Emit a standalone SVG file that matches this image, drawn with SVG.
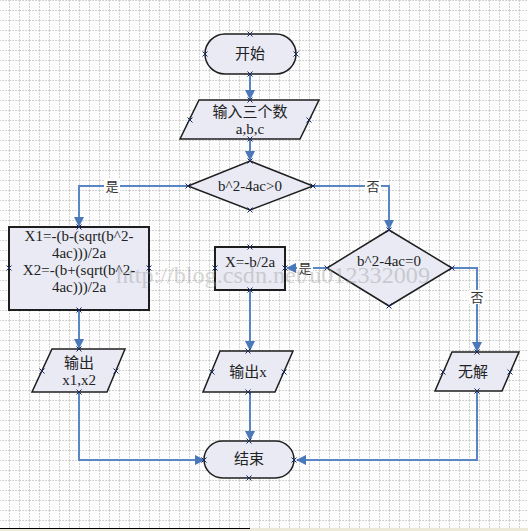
<svg xmlns="http://www.w3.org/2000/svg" width="528" height="531" viewBox="0 0 528 531">
<defs>
<pattern id="grid" x="9" y="0" width="10" height="10" patternUnits="userSpaceOnUse">
<path d="M0.5 0V10M0 0.5H10" stroke="#d2d2d2" stroke-width="1" stroke-dasharray="2 1" fill="none"/>
</pattern>
<marker id="arr" viewBox="0 0 10 10" refX="9" refY="5" markerWidth="5" markerHeight="5" orient="auto" markerUnits="strokeWidth">
<path d="M0 0L10 5L0 10z" fill="#4a78b8"/>
</marker>
<path id="cx" d="M-2.5 -2.5L2.5 2.5M-2.5 2.5L2.5 -2.5"/>
</defs>
<style>
.shape{fill:#e9eaf4;stroke:#1e1e1e;stroke-width:1.5}
.box{fill:#e9eaf4;stroke:#1e1e1e;stroke-width:2}
.conn{fill:none;stroke:#5a86c4;stroke-width:2}
.arrow{marker-end:url(#arr)}
.t{font-family:"Liberation Serif","Noto Sans CJK SC",serif;font-size:15px;fill:#222;text-anchor:middle;dominant-baseline:central}
.lbl{font-family:"Liberation Serif","Noto Sans CJK SC",serif;font-size:13px;fill:#333;text-anchor:middle;dominant-baseline:central}
.cp{stroke:#1a2a5a;stroke-width:1;fill:none}
.wm{font-family:"Liberation Serif",serif;font-size:24px;fill:#9a9a9a;opacity:0.4}
</style>
<rect width="528" height="531" fill="#fdfdfd"/>
<rect width="528" height="528" fill="url(#grid)"/>

<g id="connectors">
<path class="conn arrow" d="M250 74V99"/>
<path class="conn arrow" d="M250 139V160"/>
<path class="conn arrow" d="M188 186H79V226"/>
<rect x="104" y="179" width="16" height="14" fill="#fdfdfd"/>
<text class="lbl" x="112" y="186">是</text>
<path class="conn arrow" d="M313 186H389V229"/>
<rect x="365" y="179" width="16" height="14" fill="#fdfdfd"/>
<text class="lbl" x="373" y="186">否</text>
<path class="conn arrow" d="M327 268H287"/>
<rect x="297" y="261" width="16" height="14" fill="#fdfdfd"/>
<text class="lbl" x="305" y="268">是</text>
<path class="conn arrow" d="M452 268H477V351"/>
<rect x="469" y="290" width="16" height="14" fill="#fdfdfd"/>
<text class="lbl" x="477" y="297">否</text>
<path class="conn arrow" d="M79 310V348"/>
<path class="conn arrow" d="M250 290V350"/>
<path class="conn arrow" d="M250 392V440"/>
<path class="conn arrow" d="M79 392V460H204"/>
<path class="conn arrow" d="M477 391V460H297"/>
</g>

<g id="start">
<rect class="shape" x="205" y="34" width="91" height="40" rx="20"/>
<text class="t" x="250" y="54">开始</text>
<g class="cp"><use href="#cx" x="250" y="34"/><use href="#cx" x="250" y="74"/><use href="#cx" x="205" y="54"/><use href="#cx" x="296" y="54"/></g>
</g>

<g id="input">
<path class="shape" d="M199 100H319L300 139H180Z"/>
<text class="t" x="250" y="112">输入三个数</text>
<text class="t" x="250" y="129">a,b,c</text>
<g class="cp"><use href="#cx" x="250" y="100"/><use href="#cx" x="250" y="139"/><use href="#cx" x="190" y="120"/><use href="#cx" x="309" y="120"/></g>
</g>

<g id="cond1">
<path class="shape" d="M250 161L313 186L250 210L188 186Z"/>
<text class="t" x="250" y="186">b^2-4ac&gt;0</text>
<g class="cp"><use href="#cx" x="250" y="161"/><use href="#cx" x="250" y="210"/><use href="#cx" x="188" y="186"/><use href="#cx" x="313" y="186"/></g>
</g>

<g id="roots">
<rect class="box" x="9" y="227" width="140" height="83"/>
<text class="t" x="79" y="236">X1=-(b-(sqrt(b^2-</text>
<text class="t" x="79" y="253">4ac)))/2a</text>
<text class="t" x="79" y="270">X2=-(b+(sqrt(b^2-</text>
<text class="t" x="79" y="287">4ac)))/2a</text>
<g class="cp"><use href="#cx" x="79" y="227"/><use href="#cx" x="79" y="310"/><use href="#cx" x="9" y="268"/><use href="#cx" x="149" y="268"/></g>
</g>

<g id="single">
<rect class="box" x="215" y="247" width="70" height="43"/>
<text class="t" x="250" y="262">X=-b/2a</text>
<g class="cp"><use href="#cx" x="250" y="247"/><use href="#cx" x="250" y="290"/><use href="#cx" x="215" y="268"/><use href="#cx" x="285" y="268"/></g>
</g>

<g id="cond2">
<path class="shape" d="M389 230L452 268L389 306L327 268Z"/>
<text class="t" x="389" y="261">b^2-4ac=0</text>
<g class="cp"><use href="#cx" x="389" y="230"/><use href="#cx" x="389" y="306"/><use href="#cx" x="327" y="268"/><use href="#cx" x="452" y="268"/></g>
</g>

<g id="out1">
<path class="shape" d="M52 349H125L107 392H32Z"/>
<text class="t" x="79" y="363">输出</text>
<text class="t" x="79" y="380">x1,x2</text>
<g class="cp"><use href="#cx" x="79" y="349"/><use href="#cx" x="79" y="392"/><use href="#cx" x="42" y="371"/><use href="#cx" x="116" y="371"/></g>
</g>

<g id="out2">
<path class="shape" d="M220 351H293L275 392H203Z"/>
<text class="t" x="248" y="372">输出x</text>
<g class="cp"><use href="#cx" x="248" y="351"/><use href="#cx" x="248" y="392"/><use href="#cx" x="212" y="372"/><use href="#cx" x="284" y="372"/></g>
</g>

<g id="nosol">
<path class="shape" d="M452 352H519L502 391H435Z"/>
<text class="t" x="473" y="372">无解</text>
<g class="cp"><use href="#cx" x="477" y="352"/><use href="#cx" x="477" y="391"/><use href="#cx" x="443" y="372"/><use href="#cx" x="510" y="372"/></g>
</g>

<g id="end">
<rect class="shape" x="204" y="441" width="90" height="37" rx="18.5"/>
<text class="t" x="249" y="459">结束</text>
<g class="cp"><use href="#cx" x="249" y="441"/><use href="#cx" x="249" y="478"/><use href="#cx" x="204" y="460"/><use href="#cx" x="294" y="460"/></g>
</g>

<text class="wm" x="116" y="283" textLength="314" lengthAdjust="spacingAndGlyphs">http://blog.csdn.net/u012332009</text>

<rect x="0" y="528" width="528" height="3" fill="#ece9d8"/>
<path d="M0 528.5H250" stroke="#000" stroke-width="1"/>
</svg>
